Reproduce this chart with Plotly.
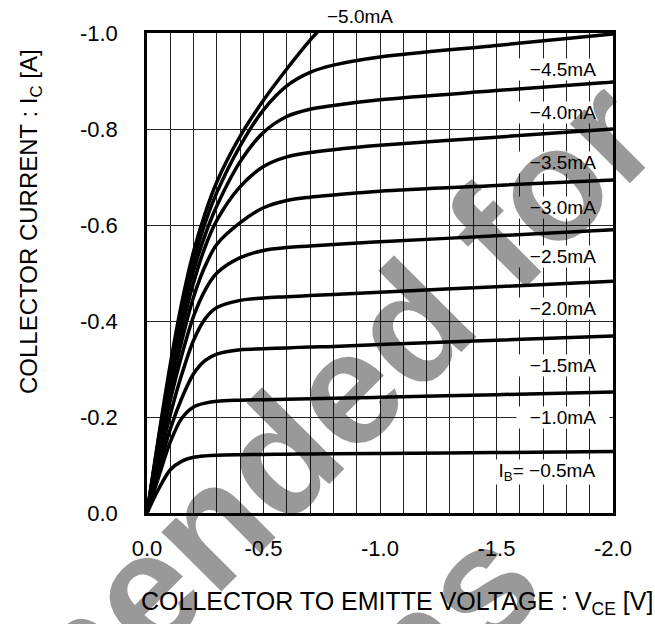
import plotly.graph_objects as go

# Collector-emitter voltage magnitudes (V) sampled for each curve
VCE = [0, 0.05, 0.1, 0.15, 0.2, 0.25, 0.3, 0.4, 0.5, 0.6, 0.7, 0.8, 1.0, 1.5, 2.0]
VCE_50 = [0, 0.05, 0.1, 0.15, 0.2, 0.25, 0.3, 0.4, 0.5, 0.6, 0.7, 0.75]

# Collector current magnitudes (A) per base current
IC_05 = [0, 0.05, 0.09, 0.108, 0.116, 0.119, 0.1205, 0.1215, 0.122, 0.1225, 0.123, 0.1233, 0.124, 0.126, 0.128]
IC_10 = [0, 0.075, 0.148, 0.198, 0.221, 0.229, 0.233, 0.235, 0.236, 0.237, 0.238, 0.239, 0.241, 0.2465, 0.252]
IC_15 = [0, 0.09, 0.175, 0.24, 0.29, 0.318, 0.331, 0.340, 0.342, 0.344, 0.346, 0.347, 0.351, 0.360, 0.369]
IC_20 = [0, 0.105, 0.205, 0.29, 0.36, 0.405, 0.428, 0.443, 0.448, 0.4505, 0.453, 0.455, 0.46, 0.4715, 0.483]
IC_25 = [0, 0.12, 0.235, 0.33, 0.41, 0.465, 0.5, 0.532, 0.547, 0.553, 0.556, 0.5595, 0.565, 0.5775, 0.59]
IC_30 = [0, 0.13, 0.25, 0.36, 0.45, 0.515, 0.56, 0.605, 0.636, 0.651, 0.658, 0.6625, 0.6705, 0.6825, 0.694]
IC_35 = [0, 0.14, 0.27, 0.385, 0.48, 0.555, 0.61, 0.68, 0.722, 0.742, 0.751, 0.757, 0.766, 0.783, 0.8]
IC_40 = [0, 0.15, 0.29, 0.41, 0.505, 0.58, 0.64, 0.732, 0.793, 0.826, 0.841, 0.849, 0.861, 0.88, 0.898]
IC_45 = [0, 0.155, 0.30, 0.425, 0.525, 0.605, 0.668, 0.765, 0.84, 0.89, 0.918, 0.933, 0.95, 0.974, 0.998]
IC_50 = [0, 0.16, 0.31, 0.44, 0.545, 0.625, 0.69, 0.785, 0.86, 0.925, 0.985, 1.012]

# Curve labels and their positions (magnitudes)
LABELS = ["I<sub>B</sub>= \u22120.5mA", "\u22121.0mA", "\u22121.5mA", "\u22122.0mA", "\u22122.5mA",
          "\u22123.0mA", "\u22123.5mA", "\u22124.0mA", "\u22124.5mA"]
LABEL_V = [1.717, 1.785, 1.785, 1.785, 1.785, 1.785, 1.785, 1.785, 1.785]
LABEL_I = [0.085, 0.200, 0.308, 0.427, 0.535, 0.6375, 0.731, 0.835, 0.923]
LABEL_W = [120, 92, 92, 92, 92, 92, 92, 92, 92]
TOP_LABEL = "\u22125.0mA"

X_TICKS = [0, -0.5, -1.0, -1.5, -2.0]
X_TICKTEXT = ["0.0", "-0.5", "-1.0", "-1.5", "-2.0"]
Y_TICKS = [0, -0.2, -0.4, -0.6, -0.8, -1.0]
Y_TICKTEXT = ["0.0", "-0.2", "-0.4", "-0.6", "-0.8", "-1.0"]

FONT = "Liberation Sans, Arial, sans-serif"

fig = go.Figure()
curves = [(VCE, IC_05), (VCE, IC_10), (VCE, IC_15), (VCE, IC_20), (VCE, IC_25),
          (VCE, IC_30), (VCE, IC_35), (VCE, IC_40), (VCE, IC_45), (VCE_50, IC_50)]
for vs, cs in curves:
    fig.add_trace(go.Scatter(
        x=[-v for v in vs], y=[-c for c in cs], mode="lines",
        line=dict(color="black", width=3.5, shape="spline", smoothing=0.9),
        showlegend=False, hoverinfo="skip"))

ann = []
for t, v, i, w in zip(LABELS, LABEL_V, LABEL_I, LABEL_W):
    ann.append(dict(x=-v, y=-i, xref="x", yref="y", text=t, showarrow=False,
                    font=dict(family=FONT, size=19, color="black"),
                    bgcolor="white", width=w, align="center", borderpad=0,
                    xanchor="center", yanchor="middle"))
ann.append(dict(x=(360 - 147) / 466, y=(513 - 17) / 480, xref="paper", yref="paper",
                text=TOP_LABEL, showarrow=False,
                font=dict(family=FONT, size=19, color="black"),
                xanchor="center", yanchor="middle"))
ann.append(dict(x=(397 - 147) / 466, y=(513 - 603) / 480, xref="paper", yref="paper",
                text="COLLECTOR TO EMITTE VOLTAGE : V<sub>CE</sub> [V]", showarrow=False,
                font=dict(family=FONT, size=25, color="black"),
                xanchor="center", yanchor="middle"))
ann.append(dict(x=(30 - 147) / 466, y=(513 - 222) / 480, xref="paper", yref="paper",
                text="COLLECTOR CURRENT : I<sub>C</sub> [A]", showarrow=False, textangle=-90,
                font=dict(family=FONT, size=24, color="black"),
                xanchor="center", yanchor="middle"))
# watermark
ann.append(dict(x=(20 - 147) / 466, y=(513 - 714) / 480, xref="paper", yref="paper",
                text="<b>Not Recommended for</b>", showarrow=False, textangle=-45,
                font=dict(family=FONT, size=160, color="rgba(0,0,0,0.4)"),
                xanchor="center", yanchor="middle"))
ann.append(dict(x=(158 - 147) / 466, y=(513 - 905) / 480, xref="paper", yref="paper",
                text="<b>New Designs</b>", showarrow=False, textangle=-45,
                font=dict(family=FONT, size=160, color="rgba(0,0,0,0.4)"),
                xanchor="center", yanchor="middle"))

fig.update_layout(
    width=655, height=624,
    margin=dict(l=147, r=42, t=33, b=111),
    paper_bgcolor="white", plot_bgcolor="white",
    annotations=ann,
    font=dict(family=FONT, size=22, color="black"),
)
fig.update_xaxes(
    range=[0, -2.0], tickvals=X_TICKS, ticktext=X_TICKTEXT,
    showgrid=True, gridcolor="#222", gridwidth=1,
    minor=dict(dtick=0.1, tick0=0, showgrid=True, gridcolor="#222", gridwidth=1),
    showline=True, linecolor="black", linewidth=2.5, mirror=True,
    ticks="", ticklabelstandoff=14, zeroline=False,
    tickfont=dict(family=FONT, size=22, color="black"),
)
fig.update_yaxes(
    range=[0, -1.0], tickvals=Y_TICKS, ticktext=Y_TICKTEXT,
    showgrid=True, gridcolor="#222", gridwidth=1,
    showline=True, linecolor="black", linewidth=2.5, mirror=True,
    ticks="", ticklabelstandoff=22, zeroline=False,
    tickfont=dict(family=FONT, size=22, color="black"),
)

fig.write_html("out.html", config={"displayModeBar": False},
               post_script="document.body.style.margin='0';document.body.style.overflow='hidden';")
